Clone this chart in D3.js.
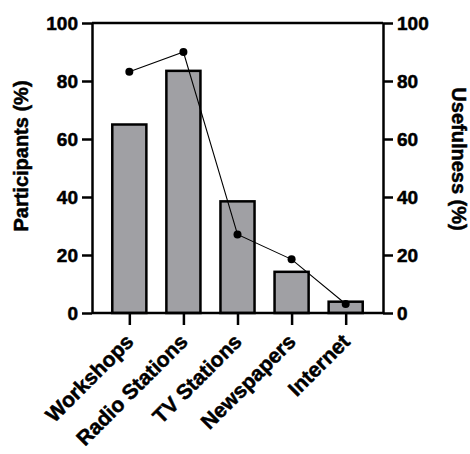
<!DOCTYPE html>
<html>
<head>
<meta charset="utf-8">
<script src="https://cdn.jsdelivr.net/npm/d3@7"></script>
<style>
  body { margin: 0; background: #fff; }
  text { font-family: "Liberation Sans", Arial, sans-serif; font-weight: bold; stroke: #000; stroke-width: 0.5px; }
</style>
</head>
<body>
<div id="chart"></div>
<script>
// data
var categories = ["Workshops", "Radio Stations", "TV Stations", "Newspapers", "Internet"];
var participants = [65, 83.5, 38.5, 14.2, 3.9];
var usefulness = [83.2, 90, 27.1, 18.5, 3.1];
var yTicks = [0, 20, 40, 60, 80, 100];

var W = 470, H = 454;
var margin = { left: 92, right: 383, top: 23, bottom: 313 };

var svg = d3.select("#chart").append("svg")
  .attr("width", W)
  .attr("height", H);

var x = d3.scalePoint()
  .domain(categories)
  .range([margin.left, margin.right])
  .padding(0.69);

var y = d3.scaleLinear().domain([0, 100]).range([margin.bottom, margin.top]);
var y2 = d3.scaleLinear().domain([0, 100]).range([margin.bottom, margin.top]);

var barW = x.step() * 0.63;

// bars
svg.selectAll(".bar")
  .data(categories)
  .enter().append("rect")
  .attr("class", "bar")
  .attr("x", function (d) { return x(d) - barW / 2; })
  .attr("y", function (d, i) { return y(participants[i]); })
  .attr("width", barW)
  .attr("height", function (d, i) { return y(0) - y(participants[i]); })
  .attr("fill", "#a0a0a4")
  .attr("stroke", "#000")
  .attr("stroke-width", 2.5);

// usefulness line
var line = d3.line()
  .x(function (d, i) { return x(categories[i]); })
  .y(function (d) { return y2(d); });

svg.append("path")
  .datum(usefulness)
  .attr("d", line)
  .attr("fill", "none")
  .attr("stroke", "#000")
  .attr("stroke-width", 1.1);

svg.selectAll(".dot")
  .data(usefulness)
  .enter().append("circle")
  .attr("cx", function (d, i) { return x(categories[i]); })
  .attr("cy", function (d) { return y2(d); })
  .attr("r", 4)
  .attr("fill", "#000");

// top frame line
svg.append("line")
  .attr("x1", margin.left).attr("x2", margin.right)
  .attr("y1", margin.top).attr("y2", margin.top)
  .attr("stroke", "#000").attr("stroke-width", 2.5);

function styleAxis(g) {
  g.selectAll(".domain").attr("stroke-width", 2.5);
  g.selectAll(".tick line").attr("stroke-width", 2.5);
  g.selectAll(".tick text").style("font-size", "19px").attr("fill", "#000");
}

svg.append("g")
  .attr("transform", "translate(" + margin.left + ",0)")
  .call(d3.axisLeft(y).tickValues(yTicks).tickSize(10).tickSizeOuter(0).tickPadding(4))
  .call(styleAxis);

svg.append("g")
  .attr("transform", "translate(" + margin.right + ",0)")
  .call(d3.axisRight(y2).tickValues(yTicks).tickSize(10).tickSizeOuter(0).tickPadding(4))
  .call(styleAxis);

var xAxis = svg.append("g")
  .attr("transform", "translate(0," + margin.bottom + ")")
  .call(d3.axisBottom(x).tickSize(12).tickSizeOuter(0))
  .call(styleAxis);
xAxis.select(".domain").attr("d", "M" + margin.left + ",0H" + margin.right);
xAxis.selectAll(".tick text")
  .style("font-size", "21px")
  .attr("text-anchor", "end")
  .attr("y", 0)
  .attr("dy", 0)
  .attr("transform", "translate(5,30) rotate(-45)");

// axis titles
svg.append("text")
  .attr("transform", "translate(28,156) rotate(-90)")
  .attr("text-anchor", "middle")
  .style("font-size", "20px")
  .text("Participants (%)");

svg.append("text")
  .attr("transform", "translate(452,159) rotate(90)")
  .attr("text-anchor", "middle")
  .style("font-size", "20px")
  .text("Usefulness (%)");
</script>
</body>
</html>
